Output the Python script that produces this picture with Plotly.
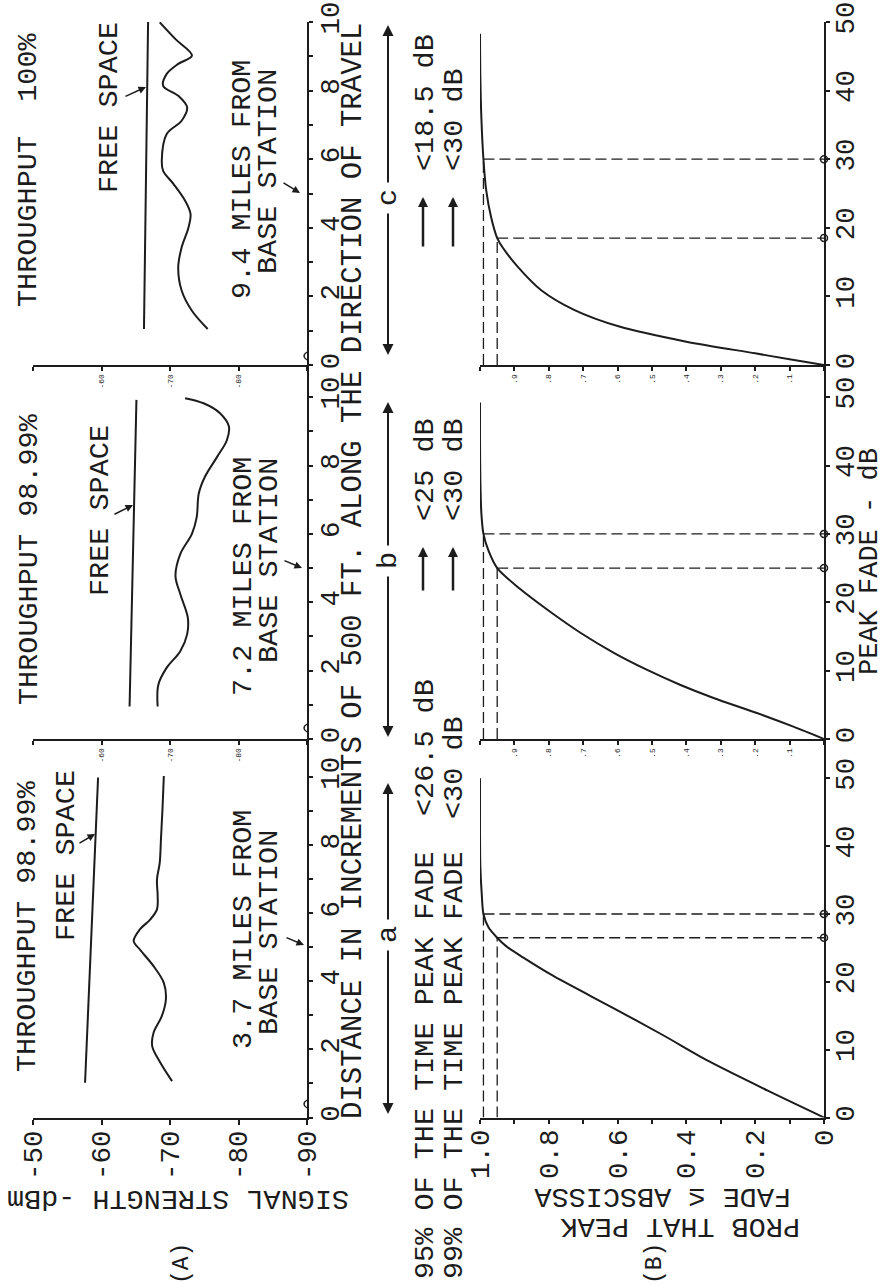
import plotly.graph_objects as go

W, H = 886, 1285
FONT = "Liberation Mono, Courier New, monospace"
INK = "#1c1c1c"
BIG = 27.5
TXT = 28.5
SMALL = 8

# ---------------- data ----------------
signal_ticks = [-50, -60, -70, -80, -90]
signal_ticktext_big = ["-50", "-60", "-70", "-80", "-90"]
signal_ticktext_small = ["", "-60", "-70", "-80", ""]
distance_ticks = [0, 1, 2, 3, 4, 5, 6, 7, 8, 9, 10]
distance_ticktext = ["0", "", "2", "", "4", "", "6", "", "8", "", "10"]
prob_ticks = [1.0, 0.9, 0.8, 0.7, 0.6, 0.5, 0.4, 0.3, 0.2, 0.1, 0.0]
prob_ticktext_big = ["1.0", "", "0.8", "", "0.6", "", "0.4", "", "0.2", "", "0"]
prob_ticktext_small = ["", ".9", ".8", ".7", ".6", ".5", ".4", ".3", ".2", ".1", ""]
fade_ticks = [0, 10, 20, 30, 40, 50]
fade_ticktext = ["0", "10", "20", "30", "40", "50"]

# free-space lines (distance, dBm)
free_dist_a = [1.02, 10.0]
free_dbm_a = [-57.6, -59.5]
free_dist_b = [0.95, 9.92]
free_dbm_b = [-64.1, -65.1]
free_dist_c = [1.05, 10.0]
free_dbm_c = [-66.2, -66.8]

# measured signal strength
meas_dist_a = [1.07, 1.61, 2.1, 2.49, 2.98, 3.47, 3.96, 4.45, 4.94, 5.19, 5.53, 5.82,
               6.12, 6.51, 7.0, 7.49, 8.27, 9.06, 10.04]
meas_dbm_a = [-70.3, -68.6, -67.4, -67.6, -68.8, -69.4, -69.1, -67.6, -65.6, -64.7, -65.6, -67.1,
              -68.1, -68.2, -68.1, -68.5, -68.7, -68.9, -69.1]
meas_dist_b = [0.95, 1.59, 2.08, 2.57, 3.06, 3.55, 4.24, 4.77, 5.41, 6.0, 6.49, 7.18,
               7.67, 8.26, 8.74, 9.14, 9.53, 9.82, 9.97]
meas_dbm_b = [-68.2, -68.3, -69.5, -71.5, -72.5, -72.6, -71.5, -70.8, -71.5, -73.2, -73.9, -74.2,
              -75.1, -76.9, -78.3, -78.6, -77.3, -74.9, -72.2]
meas_dist_c = [1.05, 1.58, 2.17, 2.85, 3.43, 4.01, 4.4, 4.79, 5.28, 5.66, 5.96, 6.73,
               7.12, 7.51, 7.85, 8.14, 8.48, 8.78, 9.02, 9.5, 9.99]
meas_dbm_c = [-75.5, -73.2, -71.7, -71.2, -71.7, -72.7, -73.0, -72.2, -70.5, -69.0, -68.8, -69.5,
              -71.7, -72.5, -71.2, -69.0, -69.5, -71.2, -73.2, -70.8, -68.5]

# cumulative distributions of peak fade (fade dB, probability)
cdf_fade_a = [0, 4, 8.3, 12.2, 16.2, 20.9, 23.6, 25.3, 26.5, 28, 30, 33, 37, 42, 50]
cdf_prob_a = [0, 0.165, 0.335, 0.47, 0.615, 0.788, 0.875, 0.925, 0.95, 0.975, 0.99, 0.995, 0.999, 1.0, 1.0]
cdf_fade_b = [0, 1.8, 3.8, 6.0, 7.9, 10.1, 12.6, 15.5, 18.9, 22.0, 25.0, 27.5, 30.0, 33, 38, 44, 49.2]
cdf_prob_b = [0, 0.089, 0.195, 0.321, 0.417, 0.514, 0.611, 0.707, 0.804, 0.885, 0.95, 0.975, 0.99,
              0.996, 0.999, 1.0, 1.0]
cdf_fade_c = [0, 0.83, 1.7, 3.4, 5.6, 8.0, 10.9, 14.3, 17.2, 18.5, 21.6, 25.5, 30, 36, 42, 48.3]
cdf_prob_c = [0, 0.10, 0.20, 0.40, 0.595, 0.725, 0.822, 0.89, 0.935, 0.95, 0.968, 0.982, 0.99,
              0.996, 0.999, 1.0]

pct_levels = [0.95, 0.99]
fade_at_pct_a = [26.5, 30]
fade_at_pct_b = [25, 30]
fade_at_pct_c = [18.5, 30]

throughput_text = ["THROUGHPUT 98.99%", "THROUGHPUT 98.99%", "THROUGHPUT  100%"]
miles_text = ["3.7 MILES FROM", "7.2 MILES FROM", "9.4 MILES FROM"]
run_labels = ["a", "b", "c"]
fade_text_b = ["<25 dB", "<30 dB"]
fade_text_c = ["<18.5 dB", "<30 dB"]


# ---------------- helpers ----------------
def px(x):
    return x / W


def py(y):
    return 1 - y / H


fig = go.Figure()

SIG_X = (33, 307)
CDF_X = (480, 824)
# (bottom pixel, top pixel, axis max) per panel
SIG_Y = [(1117.5, 739, 11.13), (739, 365, 10.94), (365, 22, 10.0)]
CDF_Y = [(1117.5, 739, 55.8), (739, 365, 54.7), (365, 22, 50.0)]

base_axis = dict(showgrid=False, zeroline=False, showline=True, linecolor=INK, linewidth=2,
                 ticks="outside", tickcolor=INK, tickwidth=1.5, ticklen=5, tickmode="array",
                 fixedrange=True, tickangle=-90, automargin=False,
                 tickfont=dict(family=FONT, color=INK, size=BIG))

layout = dict(width=W, height=H, margin=dict(l=0, r=0, t=0, b=0, pad=0), showlegend=False,
              paper_bgcolor="white", plot_bgcolor="rgba(0,0,0,0)",
              font=dict(family=FONT, color=INK, size=BIG))

for i in range(3):
    sx = "xaxis" if i == 0 else f"xaxis{i+1}"
    sy = "yaxis" if i == 0 else f"yaxis{i+1}"
    cx = f"xaxis{i+4}"
    cy = f"yaxis{i+4}"
    sid = "" if i == 0 else str(i + 1)
    small = i > 0
    layout[sx] = dict(base_axis, domain=[px(SIG_X[0]), px(SIG_X[1])], range=[-50, -90],
                      anchor="y" + sid, tickvals=signal_ticks,
                      ticktext=signal_ticktext_small if small else signal_ticktext_big,
                      tickfont=dict(family=FONT, color=INK, size=SMALL if small else BIG),
                      ticklen=4 if small else 5, ticklabelstandoff=0 if small else -5)
    b, t, m = SIG_Y[i]
    layout[sy] = dict(base_axis, domain=[py(b), py(t)], range=[0, m], anchor="x" + sid,
                      side="right", tickvals=distance_ticks, ticktext=distance_ticktext, ticklen=4,
                      ticklabelstandoff=-7)
    layout[cx] = dict(base_axis, domain=[px(CDF_X[0]), px(CDF_X[1])], range=[1.0, 0.0],
                      anchor=f"y{i+4}", tickvals=prob_ticks,
                      ticktext=prob_ticktext_small if small else prob_ticktext_big,
                      tickfont=dict(family=FONT, color=INK, size=SMALL if small else BIG),
                      ticklen=4, ticklabelstandoff=0 if small else -5)
    b, t, m = CDF_Y[i]
    layout[cy] = dict(base_axis, domain=[py(b), py(t)], range=[0, m], anchor=f"x{i+4}",
                      side="right", tickvals=fade_ticks, ticktext=fade_ticktext, ticklen=4,
                      ticklabelstandoff=-9)

line_style = dict(color=INK, width=2)
free = [(free_dist_a, free_dbm_a), (free_dist_b, free_dbm_b), (free_dist_c, free_dbm_c)]
meas = [(meas_dist_a, meas_dbm_a), (meas_dist_b, meas_dbm_b), (meas_dist_c, meas_dbm_c)]
cdfs = [(cdf_fade_a, cdf_prob_a), (cdf_fade_b, cdf_prob_b), (cdf_fade_c, cdf_prob_c)]
fades = [fade_at_pct_a, fade_at_pct_b, fade_at_pct_c]

for i in range(3):
    sid = "" if i == 0 else str(i + 1)
    fig.add_trace(go.Scatter(x=free[i][1], y=free[i][0], mode="lines", line=line_style,
                             xaxis="x" + sid, yaxis="y" + sid, hoverinfo="skip"))
    fig.add_trace(go.Scatter(x=meas[i][1], y=meas[i][0], mode="lines",
                             line=dict(color=INK, width=2, shape="spline", smoothing=1.0),
                             xaxis="x" + sid, yaxis="y" + sid, hoverinfo="skip"))
    cxn, cyn = f"x{i+4}", f"y{i+4}"
    for p, f in zip(pct_levels, fades[i]):
        fig.add_trace(go.Scatter(x=[p, p], y=[0, f], mode="lines",
                                 line=dict(color=INK, width=1.3, dash="11px,5px"),
                                 xaxis=cxn, yaxis=cyn, hoverinfo="skip"))
        fig.add_trace(go.Scatter(x=[p, 0], y=[f, f], mode="lines",
                                 line=dict(color=INK, width=1.3, dash="11px,5px"),
                                 xaxis=cxn, yaxis=cyn, hoverinfo="skip"))
        fig.add_trace(go.Scatter(x=[0], y=[f], mode="markers", cliponaxis=False,
                                 marker=dict(symbol="circle-open", size=7, color=INK,
                                             line=dict(width=1.5, color=INK)),
                                 xaxis=cxn, yaxis=cyn, hoverinfo="skip"))
    fig.add_trace(go.Scatter(x=cdfs[i][1], y=cdfs[i][0], mode="lines",
                             line=dict(color=INK, width=2, shape="spline", smoothing=0.8),
                             xaxis=cxn, yaxis=cyn, hoverinfo="skip"))

fig.update_layout(**layout)

ann = []


def text(s, x, y, angle=-90, size=TXT):
    ann.append(dict(text=s, x=px(x), y=py(y), xref="paper", yref="paper", showarrow=False,
                    textangle=angle, xanchor="center", yanchor="middle",
                    font=dict(family=FONT, size=size, color=INK)))


def arrow(hx, hy, tx, ty, width=2, size=1.0, head=2):
    ann.append(dict(text="", x=px(hx), y=py(hy), xref="paper", yref="paper", showarrow=True,
                    ax=tx - hx, ay=ty - hy, axref="pixel", ayref="pixel",
                    arrowhead=head, arrowsize=size, arrowwidth=width, arrowcolor=INK))


# panel titles & labels (rotated with the page)
text(throughput_text[0], 27, 926)
text(throughput_text[1], 29, 559)
text(throughput_text[2], 29, 170)
text("FREE SPACE", 66, 856)
text("FREE SPACE", 101, 511)
text("FREE SPACE", 109, 108)
arrow(95, 834, 78, 844, width=1.5, size=1.0)
arrow(133, 505, 113, 515, width=1.5, size=1.0)
arrow(146, 87, 124, 97, width=1.5, size=1.0)

for i, (yc1, yc2) in enumerate([(930, 933), (577, 561), (180, 172)]):
    text(miles_text[i], 243, yc1)
    text("BASE STATION", 269, yc2)
arrow(304, 945, 285, 937, width=1.5)
arrow(302, 568, 283, 560, width=1.5)
arrow(300, 193, 282, 182, width=1.5)

text("DISTANCE IN INCREMENTS OF 500 FT. ALONG THE DIRECTION OF TRAVEL", 353, 571, size=29)

# run markers a, b, c with double arrows
for lab, (lo, hi, mid) in zip(run_labels, [(1114, 783, 935), (737, 402, 561), (355, 25, 198)]):
    text(lab, 388, mid)
    arrow(388, lo, 388, mid + 14, width=2, size=1.1)
    arrow(388, hi, 388, mid - 14, width=2, size=1.1)

# percentile statements
text("95% OF THE TIME PEAK FADE", 425, 1065)
text("99% OF THE TIME PEAK FADE", 454, 1065)
text("<26.5 dB", 425, 748)
text("<30 dB", 454, 768)
text(fade_text_b[0], 425, 470)
text(fade_text_b[1], 454, 470)
arrow(423, 547, 423, 592, width=2.5, size=0.8)
arrow(453, 547, 453, 592, width=2.5, size=0.8)
text(fade_text_c[0], 425, 103)
text(fade_text_c[1], 454, 120)
arrow(423, 197, 423, 248, width=2.5, size=0.8)
arrow(453, 197, 453, 248, width=2.5, size=0.8)

# axis titles
text("PEAK FADE - dB", 870, 562, size=27)
text("SIGNAL STRENGTH -dBm", 178, 1199, angle=180)
text("PROB THAT PEAK", 680, 1227, angle=180)
text("FADE \u2264 ABSCISSA", 663, 1197, angle=180)
text("(A)", 182, 1264, size=23)
text("(B)", 655, 1264, size=23)

# axis break marks near distance zero
shapes = []
for yb in [1104, 728, 356]:
    x0 = px(307)
    shapes.append(dict(type="path", xref="paper", yref="paper",
                       path=f"M {x0},{py(yb + 4)} Q {px(301)},{py(yb)} {x0},{py(yb - 4)}",
                       line=dict(color=INK, width=1.5)))

fig.update_layout(annotations=ann, shapes=shapes)
fig.write_html("out.html")
